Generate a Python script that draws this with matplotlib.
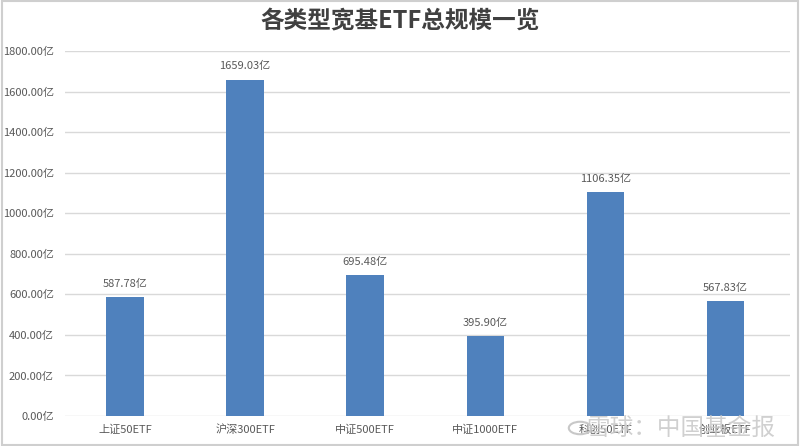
import matplotlib
matplotlib.use("Agg")
import matplotlib.pyplot as plt
from matplotlib.patches import Rectangle, Circle

plt.rcParams['font.family'] = ['Noto Sans CJK SC', 'DejaVu Sans']

# data
categories = ["上证50ETF", "沪深300ETF", "中证500ETF", "中证1000ETF", "科创50ETF", "创业板ETF"]
sizes = [587.78, 1659.03, 695.48, 395.90, 1106.35, 567.83]
yticks = [0, 200, 400, 600, 800, 1000, 1200, 1400, 1600, 1800]

BLUE = "#4f81bd"
GRID = "#d9d9d9"
TXT = "#595959"

fig = plt.figure(figsize=(8, 4.46), dpi=100)
fig.patch.set_facecolor("white")
ax = fig.add_axes([65 / 800, 1 - 416 / 446, 725 / 800, (416 - 51) / 446])

x = list(range(len(categories)))
ax.bar(x, sizes, width=0.31, color=BLUE, zorder=3)
for xi, v in zip(x, sizes):
    ax.text(xi, v + 40, f"{v:.2f}亿", ha="center", va="bottom", fontsize=8, color=TXT)

ax.set_xlim(-0.5, 5.54)
ax.set_ylim(0, 1800)
ax.set_yticks(yticks)
ax.set_yticklabels([f"{t:.2f}亿" for t in yticks], fontsize=8, color=TXT)
ax.set_xticks(x)
ax.set_xticklabels(categories, fontsize=8, color=TXT)
ax.tick_params(length=0, pad=8)
ax.tick_params(axis="x", pad=6)
ax.grid(axis="y", color=GRID, linewidth=1, zorder=0)
for s in ax.spines.values():
    s.set_visible(False)

fig.text(0.5, 1 - 21 / 446, "各类型宽基ETF总规模一览", ha="center", va="center",
         fontsize=17, fontweight="bold", color="#404040")

# watermark (logo + text), sits over the last labels as in the source image
fig.add_artist(Circle((580 / 800, 1 - 428 / 446), 0.014, transform=fig.transFigure,
                      fill=False, edgecolor="#c8c8c8", linewidth=1.5, zorder=10))
fig.text(775 / 800, 1 - 428 / 446, "雪球：中国基金报", ha="right", va="center",
         fontsize=17, color="#c8c8c8", alpha=0.85, zorder=10)

# grey frame round the image
fig.add_artist(Rectangle((0.002, 0.003), 0.996, 0.994, transform=fig.transFigure,
                         fill=False, edgecolor="#cfcfcf", linewidth=1.5))

fig.savefig("out.png", dpi=100, facecolor="white")
